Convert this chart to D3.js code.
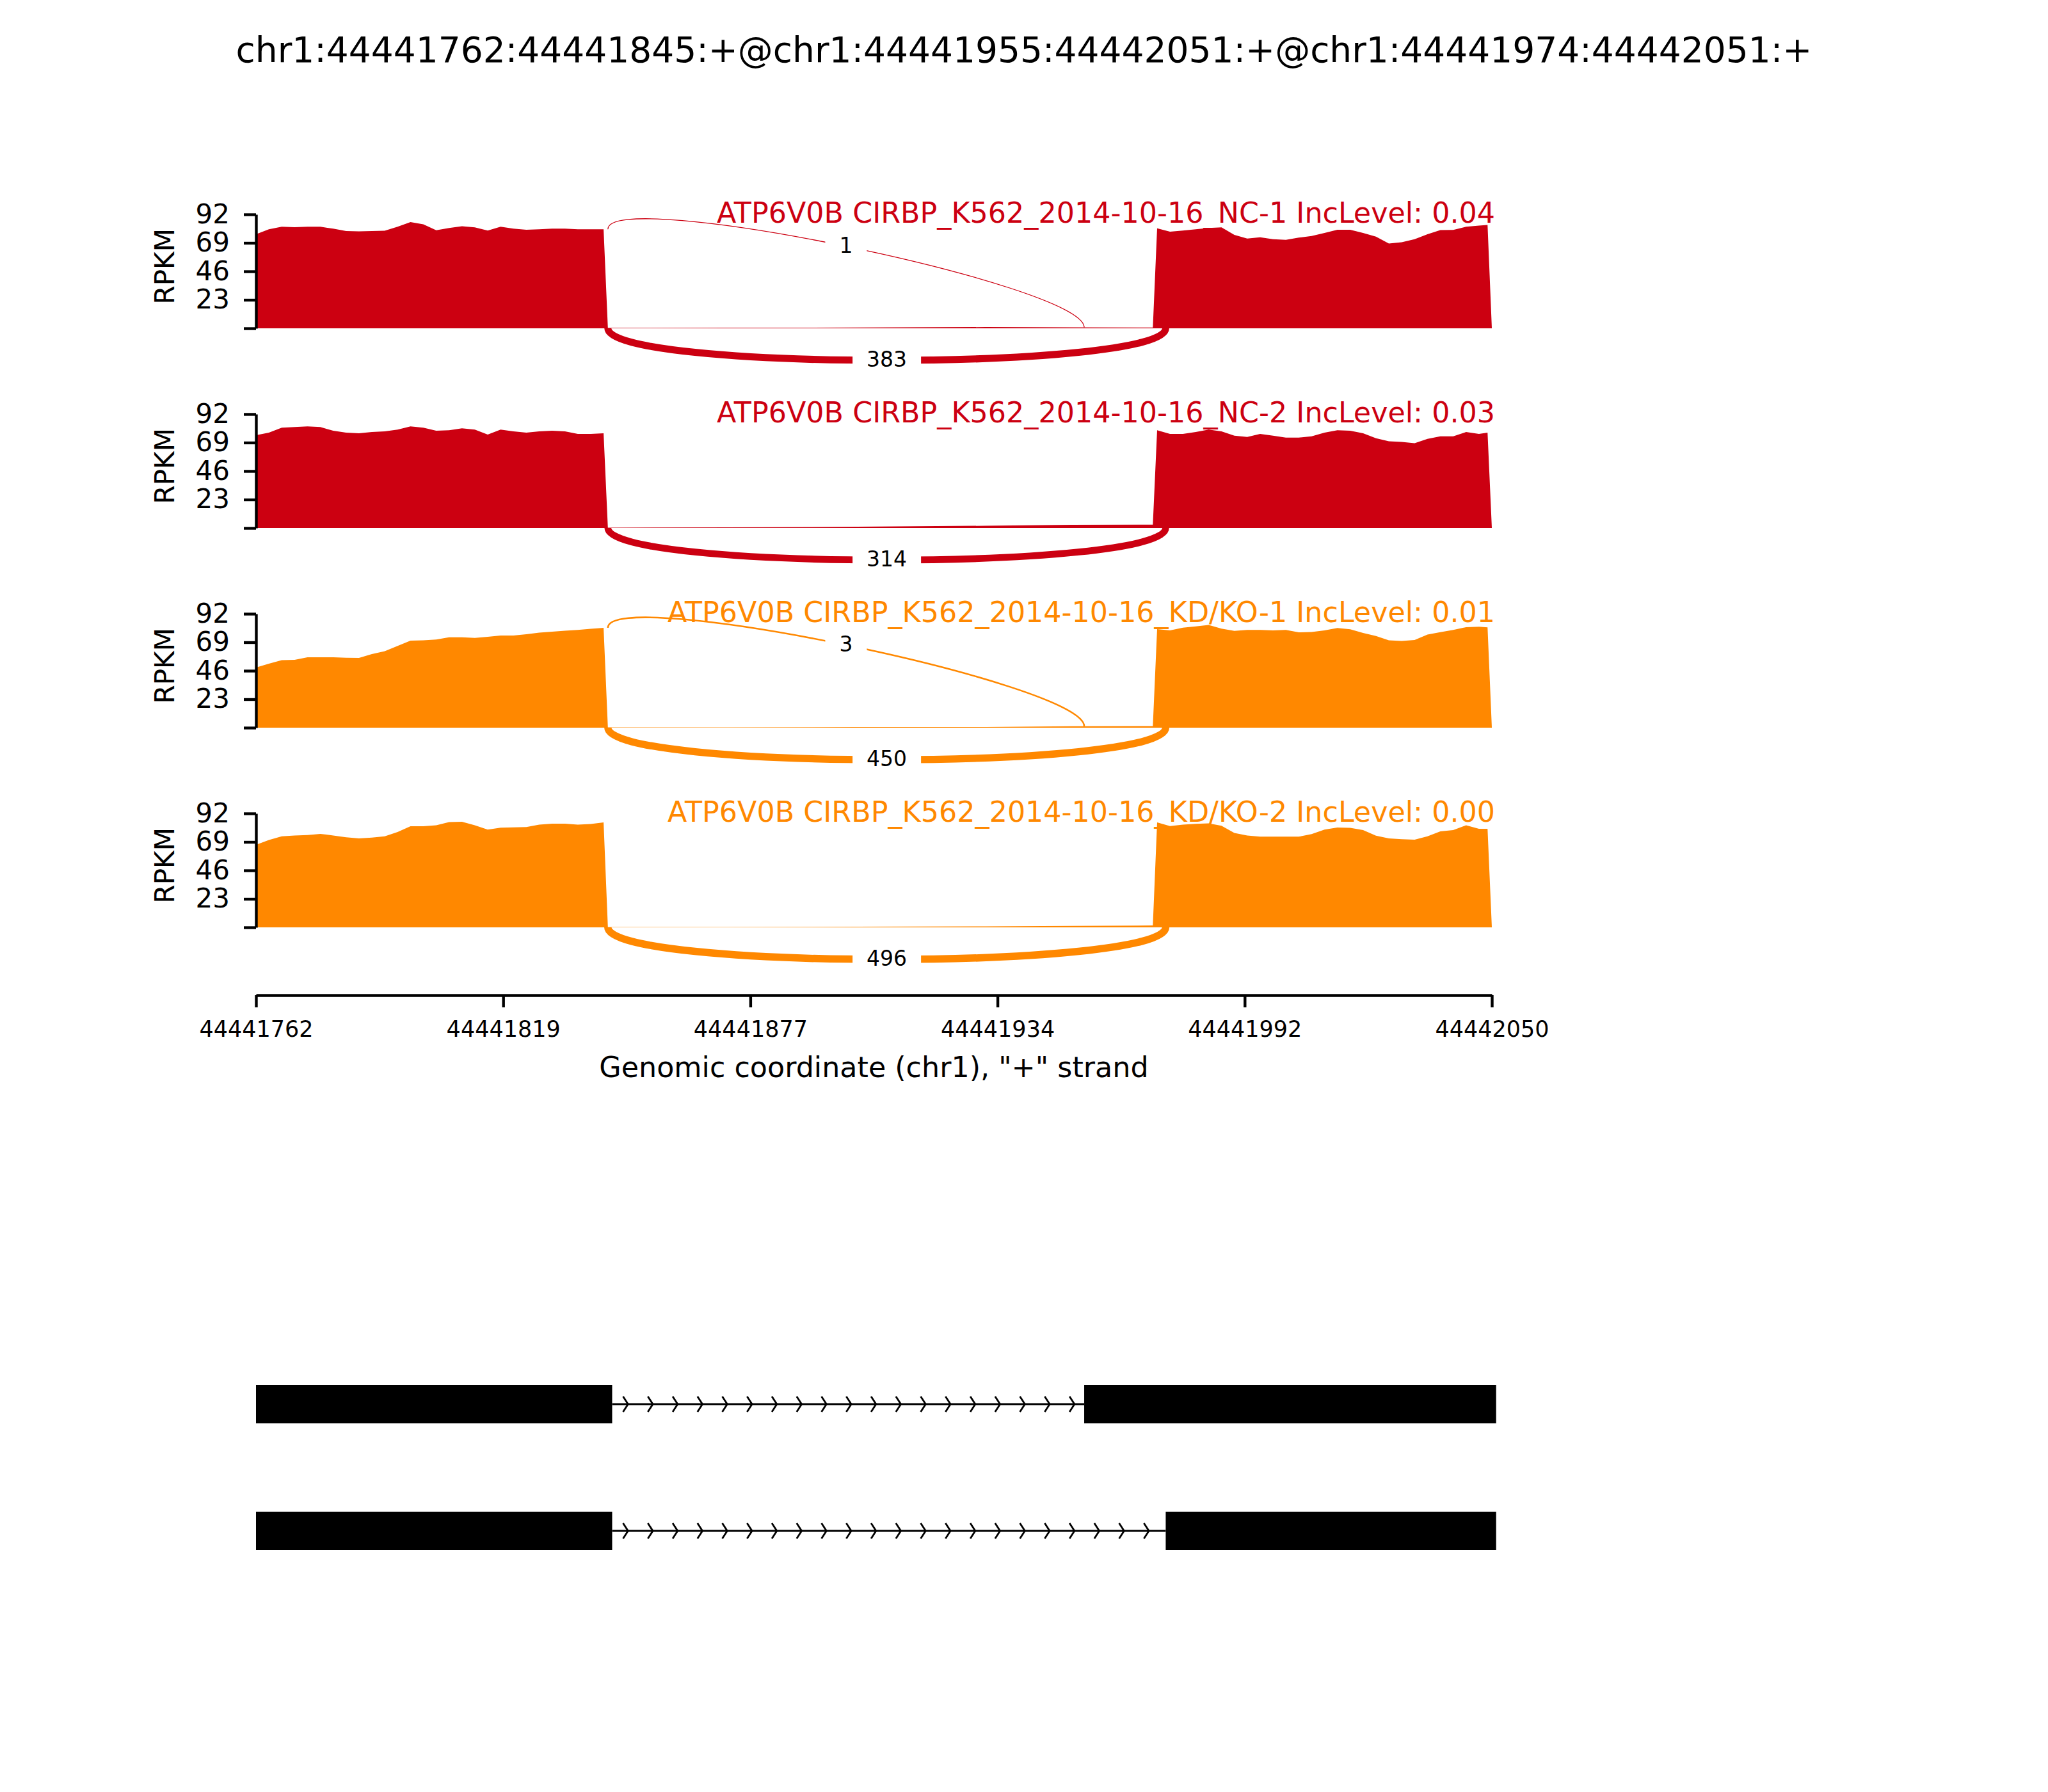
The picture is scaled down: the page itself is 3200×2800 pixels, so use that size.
<!DOCTYPE html>
<html>
<head>
<meta charset="utf-8">
<script src="https://cdn.jsdelivr.net/npm/d3@7"></script>
<style>
  body { margin: 0; background: #fff; }
  svg text { font-family: "DejaVu Sans", sans-serif; }
</style>
</head>
<body>
<svg id="chart"></svg>
<script>
// ---- data ----------------------------------------------------------------
const regionStart = 44441762;
const eventTitle = "chr1:44441762:44441845:+@chr1:44441955:44442051:+@chr1:44441974:44442051:+";
const xAxisTitle = 'Genomic coordinate (chr1), "+" strand';

const sampleLabels = [
  "ATP6V0B CIRBP_K562_2014-10-16_NC-1 IncLevel: 0.04",
  "ATP6V0B CIRBP_K562_2014-10-16_NC-2 IncLevel: 0.03",
  "ATP6V0B CIRBP_K562_2014-10-16_KD/KO-1 IncLevel: 0.01",
  "ATP6V0B CIRBP_K562_2014-10-16_KD/KO-2 IncLevel: 0.00",
];
const sampleColors = ["#CC0011", "#CC0011", "#FF8800", "#FF8800"];

// coverage sample positions (bp offset from regionStart)
const covPos = [
  0, 3, 6, 9, 12, 15, 18, 21, 24, 27, 30, 33, 36, 39, 42, 45, 48, 51, 54, 57, 60, 63, 66, 69, 72, 75, 78, 81,
  82, 110, 140, 170, 190, 209,
  210, 213, 216, 219, 222, 225, 228, 231, 234, 237, 240, 243, 246, 249, 252, 255, 258, 261, 264, 267, 270, 273, 276, 279, 282, 285, 287,
  288,
];
// RPKM at covPos
const nc1Cov = [
  76, 80, 82, 81.7, 82, 82, 80.5, 78.5, 78.3, 78.5, 78.8, 82, 85.8, 84, 79.2, 81, 82.5, 81.5, 79, 82, 80.5, 79.6, 80, 80.5, 80.5, 80, 80, 80,
  0.4, 0.5, 0.6, 1, 0.8, 0.6,
  80.7, 78, 79, 80, 81, 81.5, 75.5, 72.5, 73.5, 72, 71.4, 73.2, 74.5, 77, 79.6, 79.6, 77, 74, 68.5, 69.5, 72, 76, 79.4, 79.5, 82, 83, 83.5,
  0,
];
const nc2Cov = [
  75, 77, 81, 81.5, 82, 81.5, 78.5, 77, 76.5, 77.5, 78, 79.5, 82, 81, 78.5, 79, 80.5, 79.5, 75.5, 79.5, 78, 77, 78, 78.5, 78, 76, 76, 76.5,
  0.3, 0.5, 1, 1.8, 2.6, 2.7,
  79, 76, 76, 77.5, 79.5, 78, 74.5, 73.5, 76, 74.5, 73, 73, 74, 77, 79, 78.5, 76.5, 72.5, 70, 69.5, 68.5, 72, 74, 74, 77.5, 76, 77,
  0,
];
const kd1Cov = [
  48.6, 51.7, 54.5, 54.8, 56.8, 56.8, 56.8, 56.5, 56.3, 59.4, 61.8, 66, 70.3, 70.6, 71.2, 73, 73, 72.5, 73.4, 74.4, 74.4, 75.5, 76.8, 77.5, 78.3, 79, 79.8, 80.6,
  0.3, 0.3, 0.5, 0.5, 1.2, 1.3,
  79.6, 78.6, 80.8, 81.8, 83, 80, 78.2, 79, 79, 78.5, 79, 77, 77.3, 78.5, 80.5, 79.5, 76.5, 74, 70.5, 70, 70.8, 75.2, 77.2, 79, 81.2, 81.5, 81,
  0,
];
const kd2Cov = [
  66.7, 70.5, 73.5, 74.2, 74.6, 75.5, 74.2, 72.7, 71.9, 72.5, 73.5, 77, 81.7, 81.7, 82.5, 85, 85.3, 82.5, 79, 80.5, 80.8, 81, 83, 83.7, 83.7, 83, 83.5, 84.8,
  0.2, 0.3, 0.5, 0.8, 1.2, 1.5,
  84.8, 81.8, 83, 83.6, 84, 82, 76.2, 74.2, 73.2, 73.2, 73.2, 73.2, 75.3, 79, 80.6, 80.4, 78.5, 74, 71.8, 71.2, 70.8, 73.5, 77.5, 78.5, 82.5, 79.6, 79.6,
  0,
];

// junctions: [donor, acceptor]
const inclusionJxn = [44441845, 44441955];
const skippingJxn = [44441845, 44441974];
const inclusionCounts = [1, 0, 3, 0];
const skippingCounts = [383, 314, 450, 496];

const yTicks = [0, 23, 46, 69, 92];
const yTickLabels = ["", "23", "46", "69", "92"];
const xTickOffsets = [0, 57.6, 115.2, 172.8, 230.4, 288];
const xTickLabels = ["44441762", "44441819", "44441877", "44441934", "44441992", "44442050"];

const transcripts = [
  [[44441762, 44441845], [44441955, 44442051]],
  [[44441762, 44441845], [44441974, 44442051]],
];

// ---- layout ----------------------------------------------------------------
const config = {
  width: 3200,
  height: 2800,
  plotLeft: 400,
  plotRight: 2331,
  panelBase: 513,
  panelStep: 312,
  panelHeight: 178,
  yMax: 92,
  xAxisY: 1555,
  geneY: 2194,
  geneStep: 198,
  exonHeight: 60,
  maxJxnWidth: 11.5,
  nArrows: 50,
};

const covSeries = [nc1Cov, nc2Cov, kd1Cov, kd2Cov];

const svg = d3
  .select("#chart")
  .attr("width", config.width)
  .attr("height", config.height);

svg.append("rect").attr("width", config.width).attr("height", config.height).attr("fill", "#fff");

const x = d3.scaleLinear().domain([0, 288]).range([config.plotLeft, config.plotRight]);

svg
  .append("text")
  .attr("x", config.width / 2)
  .attr("y", 97)
  .attr("text-anchor", "middle")
  .style("font-size", "55px")
  .text(eventTitle);

const maxJxn = d3.max([...inclusionCounts, ...skippingCounts]);
const jxnWidth = (n) => (Math.log(n + 1) / Math.log(maxJxn + 1)) * config.maxJxnWidth;
// arc height, as in sashimi plots (3/4 of the negative y-limit)
const h = 0.375 * config.yMax;

// coverage value at a bp offset (linear between read-off points)
function covAt(values, off) {
  const i = d3.bisectRight(covPos, off);
  if (i <= 0) return values[0];
  if (i >= covPos.length) return values[values.length - 1];
  const p0 = covPos[i - 1], p1 = covPos[i];
  const t = (off - p0) / (p1 - p0);
  return values[i - 1] + (values[i] - values[i - 1]) * t;
}

const bezierMid = (pts) => [
  (pts[0][0] + 3 * pts[1][0] + 3 * pts[2][0] + pts[3][0]) / 8,
  (pts[0][1] + 3 * pts[1][1] + 3 * pts[2][1] + pts[3][1]) / 8,
];

function drawJunction(g, pts, count, color) {
  const p = d3.path();
  p.moveTo(pts[0][0], pts[0][1]);
  p.bezierCurveTo(pts[1][0], pts[1][1], pts[2][0], pts[2][1], pts[3][0], pts[3][1]);
  g.append("path")
    .attr("d", p.toString())
    .attr("fill", "none")
    .attr("stroke", color)
    .attr("stroke-width", jxnWidth(count));

  // count label on a white box at the curve midpoint
  const mid = bezierMid(pts);
  const lg = g.append("g").attr("transform", `translate(${mid[0]},${mid[1]})`);
  const bg = lg.append("rect").attr("fill", "#fff");
  const t = lg
    .append("text")
    .attr("text-anchor", "middle")
    .attr("dy", "0.30em")
    .style("font-size", "33px")
    .text(count);
  const w = t.node().getComputedTextLength() + 44;
  const hh = 38 + 44;
  bg.attr("x", -w / 2).attr("y", -hh / 2).attr("width", w).attr("height", hh);
}

covSeries.forEach((cov, i) => {
  const base = config.panelBase + i * config.panelStep;
  const color = sampleColors[i];
  const y = d3.scaleLinear().domain([0, config.yMax]).range([base, base - config.panelHeight]);
  const g = svg.append("g").attr("class", "panel");

  const pts = covPos.map((p, j) => ({ pos: p, val: cov[j] }));
  const area = d3
    .area()
    .x((d) => x(d.pos))
    .y0(y(0))
    .y1((d) => y(d.val));
  g.append("path").datum(pts).attr("d", area).attr("fill", color);

  // y axis
  const yAxis = d3
    .axisLeft(y)
    .tickValues(yTicks)
    .tickFormat((d, k) => yTickLabels[k])
    .tickSize(19)
    .tickSizeOuter(0)
    .tickPadding(22);
  const ya = g.append("g").attr("transform", `translate(${config.plotLeft},0)`).call(yAxis);
  ya.attr("font-family", "DejaVu Sans").attr("font-size", 42);
  ya.selectAll("path.domain").attr("stroke-width", 4.4);
  ya.selectAll(".tick line").attr("stroke-width", 4.4);
  ya.selectAll(".tick text").attr("fill", "#000");

  g.append("text")
    .attr("transform", `translate(257,${y(50)}) rotate(-90)`)
    .attr("text-anchor", "middle")
    .attr("dy", "0.35em")
    .style("font-size", "42px")
    .text("RPKM");

  // inclusion junction, drawn above the track
  if (inclusionCounts[i] > 0) {
    const off1 = inclusionJxn[0] - regionStart;
    const off2 = inclusionJxn[1] - regionStart;
    const leftDens = covAt(cov, off1 - 2); // last covered base of upstream exon
    const rightDens = covAt(cov, off2);
    const sx1 = x(off1 - 1), sx2 = x(off2);
    drawJunction(
      g,
      [
        [sx1, y(leftDens)],
        [sx1, y(leftDens + h)],
        [sx2, y(rightDens + h)],
        [sx2, y(rightDens)],
      ],
      inclusionCounts[i],
      color
    );
  }

  // skipping junction, drawn below the track
  {
    const off1 = skippingJxn[0] - regionStart;
    const off2 = skippingJxn[1] - regionStart;
    const sx1 = x(off1 - 1), sx2 = x(off2);
    drawJunction(
      g,
      [
        [sx1, y(0)],
        [sx1, y(-h)],
        [sx2, y(-h)],
        [sx2, y(0)],
      ],
      skippingCounts[i],
      color
    );
  }

  g.append("text")
    .attr("x", 2336)
    .attr("y", base - 165)
    .attr("text-anchor", "end")
    .attr("fill", color)
    .style("font-size", "44.4px")
    .text(sampleLabels[i]);
});

// x axis
const xAxis = d3
  .axisBottom(x)
  .tickValues(xTickOffsets)
  .tickFormat((d, k) => xTickLabels[k])
  .tickSize(19)
  .tickSizeOuter(0)
  .tickPadding(21);
const xa = svg.append("g").attr("transform", `translate(0,${config.xAxisY})`).call(xAxis);
xa.attr("font-family", "DejaVu Sans").attr("font-size", 35);
xa.selectAll("path.domain").attr("stroke-width", 4.4);
xa.selectAll(".tick line").attr("stroke-width", 4.4);
xa.selectAll(".tick text").attr("fill", "#000");

svg
  .append("text")
  .attr("x", (config.plotLeft + config.plotRight) / 2)
  .attr("y", 1683)
  .attr("text-anchor", "middle")
  .style("font-size", "44.4px")
  .text(xAxisTitle);

// gene models
const txSpan = d3.max(transcripts, (t) => t[t.length - 1][1]) - regionStart;
const spread = (0.2 * txSpan) / config.nArrows;
transcripts.forEach((exons, t) => {
  const cy = config.geneY + t * config.geneStep;
  const g = svg.append("g").attr("class", "transcript");
  for (let k = 0; k < exons.length - 1; k++) {
    const a = exons[k][1] - regionStart;
    const b = exons[k + 1][0] - regionStart;
    g.append("line")
      .attr("x1", x(a))
      .attr("x2", x(b))
      .attr("y1", cy)
      .attr("y2", cy)
      .attr("stroke", "#000")
      .attr("stroke-width", 2.8);
    // strand arrows, evenly spaced over the whole span, kept where the intron shows
    const locs = d3
      .range(config.nArrows)
      .map((j) => (j * txSpan) / config.nArrows)
      .filter((loc) => loc - spread > a && loc < b);
    g.selectAll(null)
      .data(locs)
      .join("path")
      .attr("d", (loc) =>
        d3.line()([
          [x(loc - spread), cy - config.exonHeight / 5],
          [x(loc), cy],
          [x(loc - spread), cy + config.exonHeight / 5],
        ])
      )
      .attr("fill", "none")
      .attr("stroke", "#000")
      .attr("stroke-width", 2.8);
  }
  g.selectAll("rect")
    .data(exons)
    .join("rect")
    .attr("x", (d) => x(d[0] - regionStart))
    .attr("width", (d) => x(d[1] - regionStart) - x(d[0] - regionStart))
    .attr("y", cy - config.exonHeight / 2)
    .attr("height", config.exonHeight)
    .attr("fill", "#000");
});
</script>
</body>
</html>
